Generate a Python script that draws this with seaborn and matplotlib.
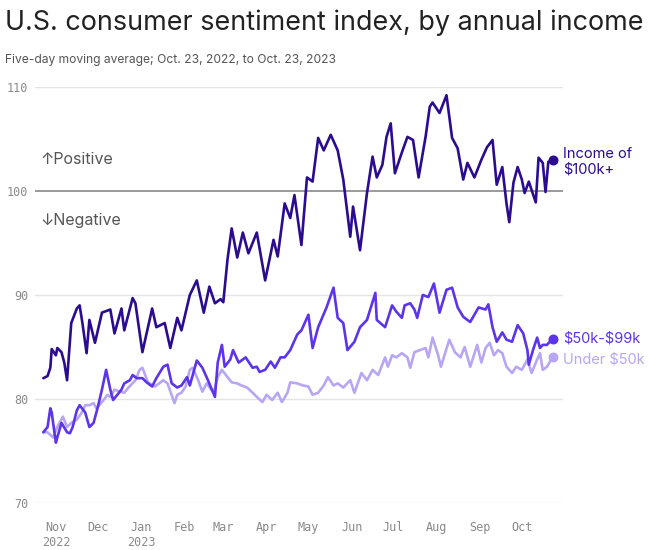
import numpy as np
import pandas as pd
import matplotlib
matplotlib.use("Agg")
import matplotlib.pyplot as plt
import matplotlib.dates as mdates
from matplotlib.ticker import FuncFormatter
import seaborn as sns

# days since Oct. 23, 2022 and five-day moving average readings
high_days = [0, 3, 5, 6, 9, 10, 13, 15, 17, 20, 24, 26, 28, 31, 33, 37, 42, 48, 51, 56,
             58, 64, 66, 71, 78, 81, 87, 91, 96, 99, 105, 110, 115, 119, 123, 127, 129, 132,
             135, 139, 143, 147, 153, 159, 165, 168, 173, 177, 180, 185, 189, 193, 197, 201,
             206, 211, 215, 220, 222, 227, 232, 236, 239, 243, 246, 249, 252, 257, 261, 265,
             269, 274, 277, 279, 284, 289, 293, 297, 301, 304, 309, 314, 318, 322, 325, 329,
             332, 334, 337, 340, 343, 345, 348, 353, 355, 358, 360, 362, 365]
high_vals = [82.0, 82.2, 83.0, 84.8, 84.2, 84.9, 84.5, 83.5, 81.8, 87.3, 88.7, 89.0, 87.3,
             84.4, 87.6, 85.4, 88.3, 88.6, 86.3, 88.7, 86.6, 89.7, 89.2, 84.5, 88.7, 86.9,
             87.3, 84.9, 87.8, 86.6, 90.0, 91.4, 88.3, 90.8, 89.2, 89.6, 89.3, 93.4, 96.4,
             93.6, 96.0, 94.0, 96.0, 91.4, 95.3, 93.7, 98.8, 97.4, 99.6, 94.8, 101.3, 100.9,
             105.1, 103.9, 105.4, 103.9, 101.1, 95.6, 98.5, 94.3, 99.8, 103.3, 101.3, 102.5,
             105.2, 106.5, 101.7, 103.7, 105.2, 104.9, 101.3, 105.2, 108.1, 108.5, 107.5,
             109.2, 105.1, 104.1, 101.1, 102.7, 101.3, 103.0, 104.2, 104.9, 100.6, 102.3,
             98.8, 97.0, 100.8, 102.3, 101.1, 99.8, 100.9, 98.9, 103.2, 102.7, 99.9, 102.8,
             103.0]

mid_days = [0, 3, 5, 6, 7, 9, 10, 13, 17, 19, 21, 24, 26, 30, 33, 36, 39, 42, 45, 48, 50,
            53, 56, 58, 62, 64, 67, 71, 74, 78, 81, 86, 89, 92, 96, 99, 103, 105, 110, 114,
            118, 123, 125, 128, 130, 134, 136, 140, 145, 150, 153, 155, 159, 163, 166, 170,
            173, 177, 182, 185, 190, 193, 197, 203, 208, 211, 215, 218, 223, 227, 232, 238,
            239, 245, 250, 253, 257, 259, 263, 266, 268, 272, 276, 280, 284, 289, 293, 297,
            301, 306, 312, 317, 319, 322, 325, 329, 332, 336, 340, 344, 347, 348, 351, 354,
            356, 358, 361, 365]
mid_vals = [76.8, 77.3, 79.1, 78.7, 77.7, 75.8, 76.3, 77.7, 76.8, 76.7, 77.3, 78.9, 79.4,
            78.7, 77.3, 77.7, 79.2, 80.9, 82.8, 80.9, 79.9, 80.4, 80.9, 81.5, 81.8, 82.3,
            82.0, 82.0, 81.6, 81.2, 82.0, 83.1, 83.3, 81.5, 81.1, 81.3, 82.1, 81.3, 83.7,
            83.0, 81.8, 80.2, 83.5, 85.2, 83.1, 83.8, 84.7, 83.5, 84.0, 83.0, 83.1, 82.6,
            82.8, 83.6, 83.0, 84.0, 84.0, 84.7, 86.2, 86.6, 88.1, 84.9, 86.9, 88.8, 90.7,
            87.8, 87.3, 84.7, 85.5, 86.9, 87.6, 90.2, 87.6, 86.9, 89.0, 88.4, 87.8, 89.0,
            89.2, 88.6, 87.8, 90.0, 89.8, 91.1, 88.3, 90.5, 90.7, 88.8, 87.9, 87.4, 88.8,
            88.6, 89.1, 86.9, 85.5, 86.4, 85.7, 85.5, 87.1, 86.3, 84.7, 83.3, 84.7, 85.9,
            84.9, 85.2, 85.2, 85.8]

low_days = [0, 3, 7, 10, 14, 17, 20, 24, 28, 30, 33, 36, 38, 42, 46, 48, 51, 55, 58, 61,
            66, 69, 71, 75, 80, 86, 89, 94, 96, 99, 102, 105, 107, 111, 114, 117, 122, 125,
            128, 132, 135, 139, 142, 146, 150, 153, 157, 160, 164, 168, 171, 175, 177, 182,
            186, 190, 193, 197, 201, 204, 208, 211, 215, 220, 223, 228, 232, 236, 240, 245,
            247, 250, 253, 257, 261, 263, 266, 270, 274, 276, 279, 283, 285, 288, 291, 295,
            299, 302, 306, 311, 314, 317, 320, 323, 326, 329, 332, 336, 339, 343, 347, 350,
            354, 356, 358, 361, 365]
low_vals = [76.8, 76.8, 76.3, 77.3, 78.3, 77.3, 77.7, 78.0, 78.8, 79.4, 79.4, 79.6, 79.1,
            79.7, 80.4, 80.2, 80.9, 80.7, 80.6, 81.1, 81.8, 82.8, 83.0, 81.6, 81.2, 81.8,
            81.5, 79.6, 80.4, 80.6, 81.2, 82.8, 83.0, 81.8, 80.7, 81.5, 80.6, 82.1, 82.8,
            82.1, 81.6, 81.5, 81.3, 81.1, 80.6, 80.2, 79.7, 80.4, 79.9, 80.6, 79.7, 80.6,
            81.6, 81.5, 81.3, 81.2, 80.4, 80.6, 81.3, 82.1, 81.3, 81.5, 81.1, 81.8, 80.6,
            82.5, 81.8, 82.8, 82.3, 84.0, 83.1, 84.2, 84.0, 84.4, 84.0, 83.0, 84.5, 84.7,
            84.9, 84.0, 85.9, 84.2, 83.1, 84.4, 85.7, 84.5, 84.0, 85.0, 83.1, 85.2, 83.5,
            84.9, 85.4, 84.2, 84.7, 84.4, 83.1, 82.5, 83.1, 82.8, 83.8, 82.5, 83.8, 84.4,
            82.8, 83.1, 84.0]

groups = ["Under $50k", "$50k-$99k", "$100k+"]
colors = ["#b8a6f4", "#5b34ec", "#2b0c91"]
end_labels = ["Under \\$50k", "\\$50k-\\$99k", "Income of\n\\$100k+"]

start = pd.Timestamp("2022-10-23")
frames = []
for g, d, v in zip(groups, [low_days, mid_days, high_days], [low_vals, mid_vals, high_vals]):
    frames.append(pd.DataFrame({"date": start + pd.to_timedelta(d, unit="D"),
                                "value": v, "group": g}))
df = pd.concat(frames, ignore_index=True)

sns.set_style("white")
plt.rcParams["font.family"] = ["Inter", "DejaVu Sans"]

fig = plt.figure(figsize=(6.6, 5.5), dpi=100)
ax = fig.add_axes([0.053, 0.0855, 0.8, 0.7564])

for y in [70, 80, 90, 110]:
    ax.axhline(y, color="#e4e4e4", lw=1.0, zorder=0)
ax.axhline(100, color="#9a9a9a", lw=1.4, zorder=0)

sns.lineplot(data=df, x="date", y="value", hue="group", hue_order=groups,
             palette=dict(zip(groups, colors)), linewidth=1.9, legend=False, ax=ax)

for g, c in zip(groups, colors):
    last = df[df.group == g].iloc[-1]
    ax.scatter([last["date"]], [last["value"]], s=38, color=c, zorder=5, clip_on=False)

ax.set_xlim(start - pd.Timedelta(days=6), start + pd.Timedelta(days=372.5))
ax.set_ylim(70, 110)
for s in ax.spines.values():
    s.set_visible(False)

ax.set_yticks([70, 80, 90, 100, 110])
ax.tick_params(axis="y", length=0, pad=5, labelsize=8.5, labelcolor="#8a8a8a")
ax.xaxis.set_major_locator(mdates.MonthLocator())

def month_fmt(x, pos):
    d = mdates.num2date(x)
    if d.month in (11, 1):
        return d.strftime("%b") + "\n" + d.strftime("%Y")
    return d.strftime("%b")

ax.xaxis.set_major_formatter(FuncFormatter(month_fmt))
ax.tick_params(axis="x", length=9, width=0.8, color="#e4e4e4", pad=4,
               labelsize=8.5, labelcolor="#8a8a8a")
for lab in ax.get_xticklabels() + ax.get_yticklabels():
    lab.set_family("DejaVu Sans Mono")
    lab.set_linespacing(1.15)
ax.set_xlabel("")
ax.set_ylabel("")

ax.text(0.01, 0.8245, "\u2191Positive", transform=ax.transAxes, fontsize=11.5,
        color="#555555", va="center")
ax.text(0.01, 0.678, "\u2193Negative", transform=ax.transAxes, fontsize=11.5,
        color="#555555", va="center")

# series labels right of the lines
label_y = {"$100k+": 102.8, "$50k-$99k": 85.8, "Under $50k": 83.8}
for g, c, lab in zip(groups, colors, end_labels):
    ax.text(1.0, label_y[g], lab, transform=ax.get_yaxis_transform(), color=c,
            fontsize=10.5, va="center", ha="left", linespacing=1.2)

fig.text(0.008, 0.958, "U.S. consumer sentiment index, by annual income",
         fontsize=19.4, color="#222222", va="center")
fig.text(0.008, 0.89, "Five-day moving average; Oct. 23, 2022, to Oct. 23, 2023",
         fontsize=8.7, color="#555555", va="center")

fig.savefig("out.png", dpi=100)
